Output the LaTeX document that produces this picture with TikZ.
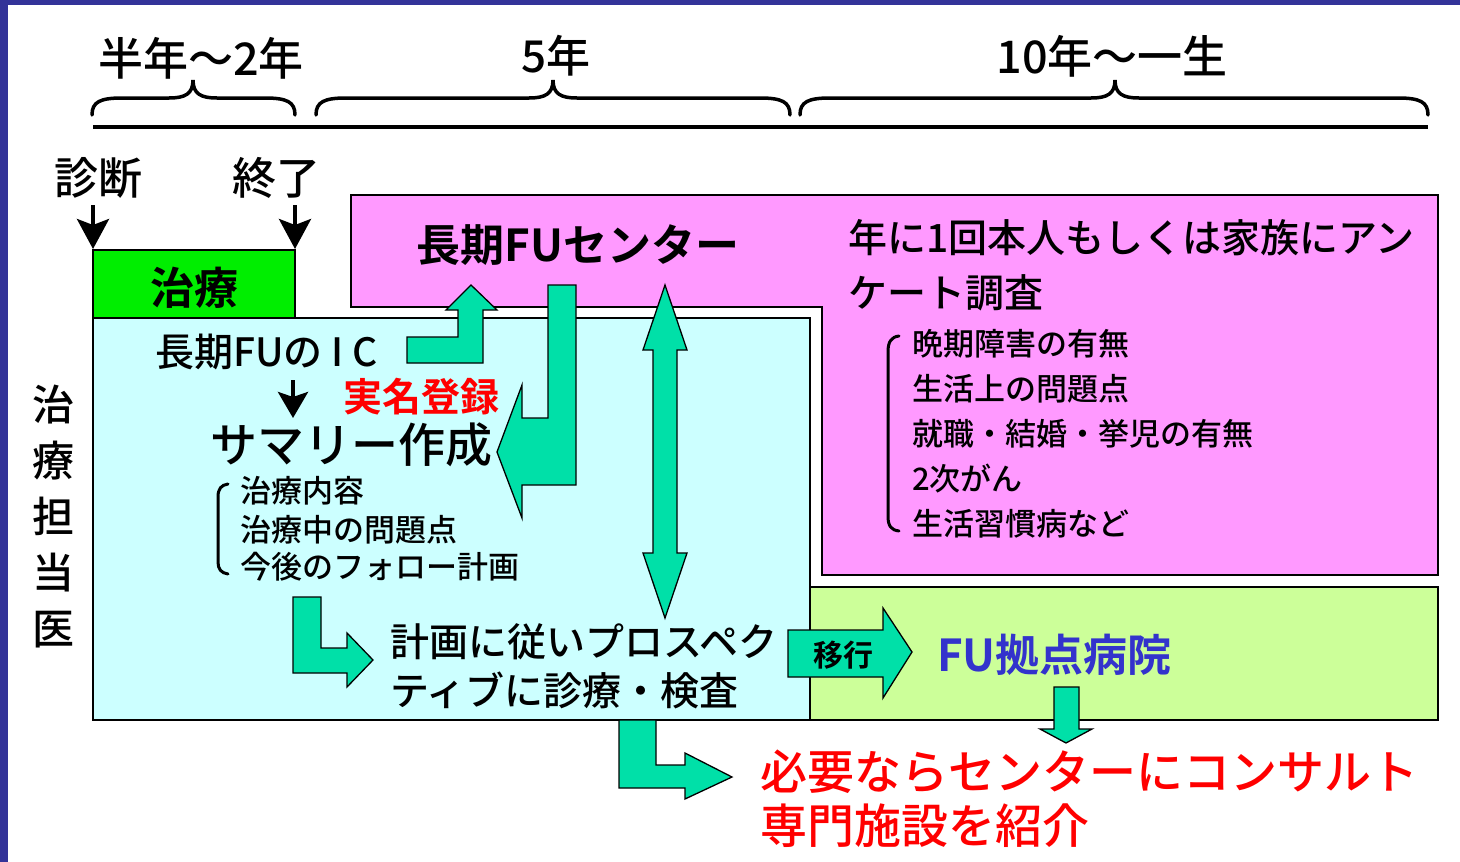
\documentclass[tikz,border=0pt]{standalone}
\usepackage{fontspec}
\setmainfont{Noto Sans CJK JP}[UprightFont={* Medium}, BoldFont={* Bold}]
\usetikzlibrary{arrows.meta}
\definecolor{borderblue}{HTML}{333399}
\definecolor{treatgreen}{HTML}{00EE00}
\definecolor{cyanbg}{HTML}{CCFFFF}
\definecolor{magbg}{HTML}{FF99FF}
\definecolor{limebg}{HTML}{CCFF99}
\definecolor{arrowgreen}{HTML}{00E0A8}
\definecolor{txtred}{HTML}{FF0000}
\definecolor{txtblue}{HTML}{3333CC}
\newcommand\fsz[1]{\fontsize{#1}{#1}\selectfont}
\newcommand\mybrace[3]{%
  \draw[bracestyle] (#1,115) .. controls (#1,102) and (#1+8,98) .. (#1+30,98)
    -- (#2-24,98) .. controls (#2-8,98) and (#2,94) .. (#2,80)
    .. controls (#2,94) and (#2+8,98) .. (#2+24,98)
    -- (#3-30,98) .. controls (#3-8,98) and (#3,102) .. (#3,115);}
\begin{document}
\begin{tikzpicture}[x=1pt,y=-1pt,
  txt/.style={inner sep=0pt},
  lft/.style={inner sep=0pt, anchor=west},
  boxline/.style={draw=black, line width=2pt},
  garrow/.style={fill=arrowgreen, draw=black, line width=1.3pt, line join=miter},
  bracestyle/.style={line width=3.5pt, line cap=round},
  bracket/.style={line width=3pt, line cap=round},
  blkarrow/.style={line width=4pt, -{Stealth[length=30pt, width=32pt, inset=6pt]}},
  smallarrow/.style={line width=4pt, -{Stealth[length=26pt, width=30pt, inset=5pt]}}]
\useasboundingbox (0,0) rectangle (1460,862);
\fill[white] (0,0) rectangle (1460,862);
\fill[borderblue] (0,0) rectangle (8,862);
\fill[borderblue] (0,0) rectangle (1460,5);

% timeline
\draw[line width=4pt] (93,127) -- (1428,127);
\mybrace{92}{193}{295}
\mybrace{316}{553}{790}
\mybrace{800}{1115}{1428}
\node[txt, font=\fsz{45}] (half) at (201,58) {半年～2年};
\node[txt, font=\fsz{44}] (five) at (556,56) {5年};
\node[txt, font=\fsz{45}] (life) at (1112,56) {10年～一生};

% boxes
\draw[boxline, fill=magbg] (351,195) -- (1438,195) -- (1438,575) -- (822,575) -- (822,307) -- (351,307) -- cycle;
\draw[boxline, fill=cyanbg] (93,318) rectangle (810,720);
\draw[boxline, fill=limebg] (810,587) rectangle (1438,720);
\draw[boxline, fill=treatgreen] (93,250) rectangle (295,318);

% top labels
\node[txt, font=\fsz{44}] (diag) at (98,178) {診断};
\node[txt, font=\fsz{44}] (end) at (276,178) {終了};
\coordinate (diagtop) at (93,205);
\coordinate (diagtip) at (93,249);
\coordinate (endtop) at (295,205);
\coordinate (endtip) at (295,249);
\draw[blkarrow] (diagtop) -- (diagtip);
\draw[blkarrow] (endtop) -- (endtip);
\node[txt, font=\fsz{44}\bfseries] (treat) at (194,288) {治療};

% side label
\node[txt, font=\fontsize{42}{56}\selectfont, align=center] (doctor) at (53,516) {治\\療\\担\\当\\医};

% center box
\node[txt, font=\fsz{44}\bfseries] (center) at (578,245) {長期FUセンター};
\node[lft, font=\fsz{39}] (survey1) at (848,238) {年に1回本人もしくは家族にアン};
\node[lft, font=\fsz{39}] (survey2) at (848,293) {ケート調査};
\node[lft, font=\fsz{31}] (s1) at (912,344) {晩期障害の有無};
\node[lft, font=\fsz{31}] (s2) at (912,389) {生活上の問題点};
\node[lft, font=\fsz{31}] (s3) at (912,434) {就職・結婚・挙児の有無};
\node[lft, font=\fsz{31}] (s4) at (912,479) {2次がん};
\node[lft, font=\fsz{31}] (s5) at (912,524) {生活習慣病など};
\draw[bracket] (899,336) .. controls (891,337) and (888,342) .. (888,352) -- (888,516) .. controls (888,526) and (891,530) .. (899,531);

% cyan box texts
\node[lft, font=\fsz{39}] (ic) at (155,352) {長期FUの I C};
\coordinate (ictop) at (293,380);
\coordinate (ictip) at (293,418);
\draw[smallarrow] (ictop) -- (ictip);
\node[lft, font=\fsz{39}\bfseries, text=txtred] (reg) at (343,397) {実名登録};
\node[lft, font=\fsz{47}] (summary) at (210,445) {サマリー作成};
\node[lft, font=\fsz{31}] (c1) at (240,491) {治療内容};
\node[lft, font=\fsz{31}] (c2) at (240,530) {治療中の問題点};
\node[lft, font=\fsz{31}] (c3) at (240,567) {今後のフォロー計画};
\draw[bracket] (228,484) .. controls (221,485) and (218,489) .. (218,497) -- (218,562) .. controls (218,569) and (221,573) .. (228,574);
\node[lft, font=\fsz{39}] (plan1) at (390,642) {計画に従いプロスペク};
\node[lft, font=\fsz{39}] (plan2) at (390,690) {ティブに診療・検査};

% lime box texts
\node[lft, font=\fsz{44}\bfseries, text=txtblue] (hosp) at (937,655) {FU拠点病院};
\node[lft, font=\fsz{47}, text=txtred] (cons1) at (760,772) {必要ならセンターにコンサルト};
\node[lft, font=\fsz{47}, text=txtred] (cons2) at (760,826) {専門施設を紹介};

% block arrows
\draw[garrow] (407,337) -- (458,337) -- (458,310) -- (446,310) -- (471,285) -- (497,310) -- (483,310) -- (483,363) -- (407,363) -- cycle;
\draw[garrow] (548,285) -- (576,285) -- (576,485) -- (522,485) -- (522,518) -- (497,452) -- (522,385) -- (522,418) -- (548,418) -- cycle;
\draw[garrow] (665,285) -- (687,350) -- (677,350) -- (677,553) -- (687,553) -- (665,618) -- (643,553) -- (653,553) -- (653,350) -- (643,350) -- cycle;
\draw[garrow] (293,597) -- (321,597) -- (321,648) -- (347,648) -- (347,633) -- (373,660) -- (347,687) -- (347,673) -- (293,673) -- cycle;
\draw[garrow] (788,630) -- (883,630) -- (883,608) -- (912,652) -- (883,698) -- (883,677) -- (788,677) -- cycle;
\draw[garrow] (619,720) -- (656,720) -- (656,765) -- (685,765) -- (685,753) -- (732,777) -- (685,799) -- (685,788) -- (619,788) -- cycle;
\draw[garrow] (1054,687) -- (1079,687) -- (1079,729) -- (1092,729) -- (1066,743) -- (1040,729) -- (1054,729) -- cycle;
\node[txt, font=\fsz{30}\bfseries] (movelabel) at (843,655) {移行};
\end{tikzpicture}
\end{document}
